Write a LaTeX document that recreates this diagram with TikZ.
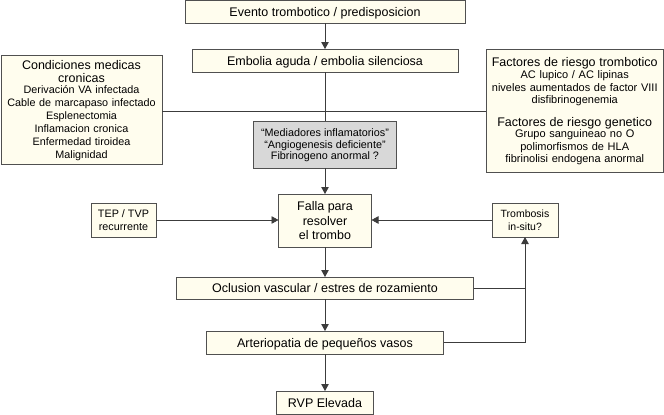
\documentclass[tikz,border=0pt]{standalone}
\usepackage{fontspec}
\setmainfont{Liberation Sans}
\usetikzlibrary{arrows.meta}
\definecolor{boxfill}{RGB}{255,253,238}
\definecolor{greyfill}{RGB}{216,216,216}
\definecolor{linecol}{RGB}{60,60,60}
\definecolor{bordercol}{RGB}{80,80,80}
\newcommand\fmain{\fontsize{12.5}{14.5}\selectfont}
\begin{document}
\begin{tikzpicture}[x=1pt,y=-1pt,
  box/.style={draw=bordercol, fill=boxfill, line width=0.8pt, inner sep=0pt, outer sep=0pt, align=center, font=\fmain, text depth=0pt},
  oneline/.style={box, text height=9.2pt},
  greybox/.style={box, fill=greyfill},
  txt/.style={inner sep=0pt, outer sep=0pt, align=center},
  ln/.style={draw=linecol, line width=0.8pt},
  arr/.style={ln, -{Triangle[length=7pt,width=7.5pt]}}]
\useasboundingbox (0,0) rectangle (664,415);

\node[oneline, minimum width=280pt, minimum height=22.5pt] (evento) at (325,11.75) {Evento trombotico / predisposicion};
\node[oneline, minimum width=266pt, minimum height=23pt] (embolia) at (325,60.5) {Embolia aguda / embolia silenciosa};

\node[box, minimum width=161pt, minimum height=109pt] (cond) at (81.5,109.5) {};
\node[txt, anchor=north, text width=160pt, font=\fontsize{10.8}{13}\selectfont] (condtxt) at (81.5,60.2)
  {{\fontsize{12.5}{13.4}\selectfont Condiciones medicas\\cronicas\par}\vspace{-2.4pt}
   Derivación VA infectada\\Cable de marcapaso infectado\\Esplenectomia\\Inflamacion cronica\\Enfermedad tiroidea\\Malignidad\par};

\node[box, minimum width=177.5pt, minimum height=123pt] (fact) at (574.75,110.5) {};
\node[txt, anchor=north, text width=176pt, font=\fontsize{11}{12.3}\selectfont] (facttxt) at (574.75,57.6)
  {{\fontsize{12.5}{14}\selectfont Factores de riesgo trombotico\par}
   AC lupico / AC lipinas\\niveles aumentados de factor VIII\\disfibrinogenemia\par\vspace{8.7pt}
   {\fontsize{12.5}{14}\selectfont Factores de riesgo genetico\par}\vspace{-0.6pt}
   Grupo sanguineao no O\\polimorfismos de HLA\\fibrinolisi endogena anormal\par};

\node[greybox, minimum width=143pt, minimum height=47pt, font=\fontsize{10.8}{11.5}\selectfont] (grey) at (325,144.5)
  {“Mediadores inflamatorios”\\“Angiogenesis deficiente”\\Fibrinogeno anormal ?};

\node[box, minimum width=93pt, minimum height=53pt] (falla) at (325,220.5) {Falla para\\resolver\\el trombo};
\node[box, minimum width=65pt, minimum height=34pt, font=\fontsize{10.8}{13}\selectfont] (tep) at (123.5,220) {TEP / TVP\\recurrente};
\node[box, minimum width=66pt, minimum height=34pt, font=\fontsize{10.5}{13}\selectfont] (tromb) at (525,220) {Trombosis\\in-situ?};

\node[oneline, minimum width=297pt, minimum height=22pt] (ocl) at (325,288) {Oclusion vascular / estres de rozamiento};
\node[oneline, minimum width=237pt, minimum height=23pt] (art) at (325,342.5) {Arteriopatia de pequeños vasos};
\node[oneline, minimum width=97pt, minimum height=23pt] (rvp) at (325,402.5) {RVP Elevada};

\coordinate (hl) at (325,111);
\draw[arr] (evento.south) -- (embolia.north);
\draw[ln] (embolia.south) -- (grey.north);
\draw[ln] (cond.east |- hl) -- (fact.west |- hl);
\draw[arr] (grey.south) -- (falla.north);
\draw[arr] (tep.east) -- (falla.west |- tep.east);
\draw[arr] (tromb.west) -- (falla.east |- tromb.west);
\draw[arr] (falla.south) -- (ocl.north);
\draw[arr] (ocl.south) -- (art.north);
\draw[arr] (art.south) -- (rvp.north);
\draw[ln] (ocl.east) -- (ocl.east -| tromb.south);
\draw[arr] (art.east) -- (art.east -| tromb.south) -- (tromb.south);
\end{tikzpicture}
\end{document}
